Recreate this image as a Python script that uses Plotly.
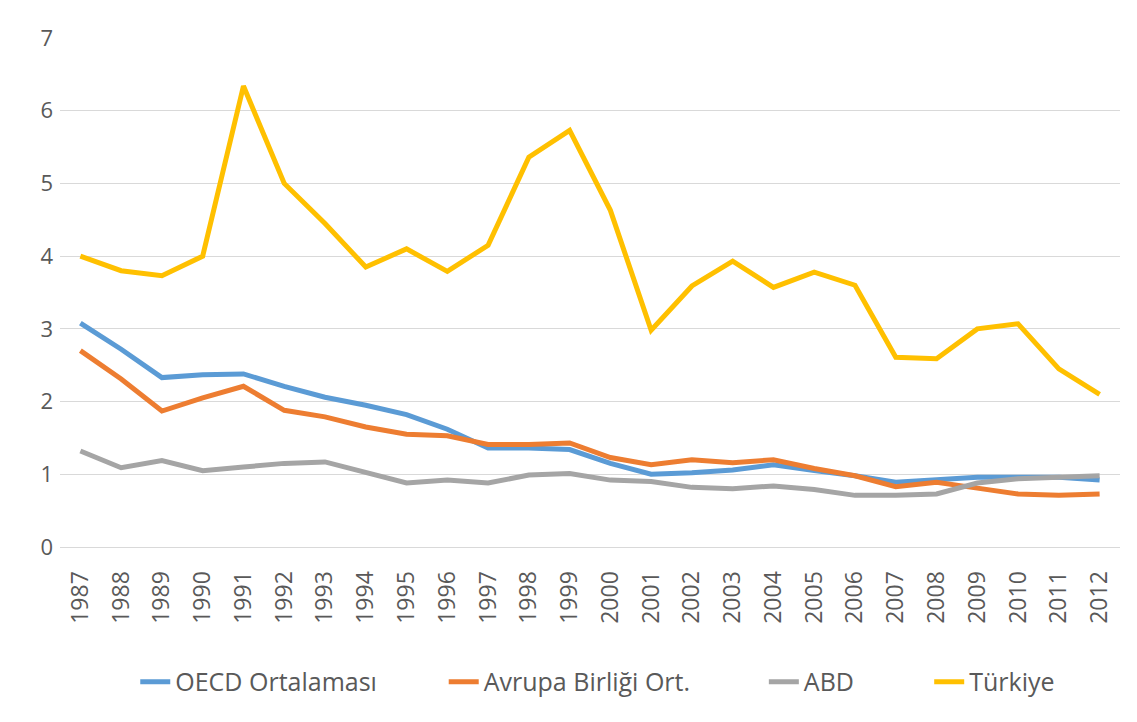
import plotly.graph_objects as go

years = [str(y) for y in range(1987, 2013)]

oecd = [3.08, 2.72, 2.33, 2.37, 2.38, 2.21, 2.06, 1.95, 1.82, 1.62, 1.36, 1.36, 1.34,
        1.15, 1.00, 1.02, 1.06, 1.13, 1.05, 0.98, 0.89, 0.93, 0.96, 0.96, 0.96, 0.92]
ab = [2.70, 2.31, 1.87, 2.05, 2.21, 1.88, 1.79, 1.65, 1.55, 1.53, 1.41, 1.41, 1.43,
      1.23, 1.13, 1.20, 1.16, 1.20, 1.08, 0.98, 0.83, 0.89, 0.81, 0.73, 0.71, 0.73]
abd = [1.32, 1.09, 1.19, 1.05, 1.10, 1.15, 1.17, 1.02, 0.88, 0.92, 0.88, 0.99, 1.01,
       0.92, 0.90, 0.82, 0.80, 0.84, 0.79, 0.71, 0.71, 0.73, 0.88, 0.94, 0.96, 0.98]
turkiye = [4.00, 3.80, 3.73, 4.00, 6.34, 5.00, 4.45, 3.85, 4.10, 3.79, 4.15, 5.36, 5.73,
           4.63, 2.98, 3.59, 3.93, 3.57, 3.78, 3.60, 2.61, 2.59, 3.00, 3.07, 2.45, 2.10]

names = ["OECD Ortalaması", "Avrupa Birliği Ort.", "ABD", "Türkiye"]
colors = ["#5B9BD5", "#ED7D31", "#A5A5A5", "#FFC000"]
series = [oecd, ab, abd, turkiye]

legend_ids = ["legend", "legend2", "legend3", "legend4"]
legend_x = [0.071, 0.362, 0.664, 0.820]

fig = go.Figure()
for name, vals, col, lid in zip(names, series, colors, legend_ids):
    fig.add_trace(go.Scatter(x=years, y=vals, mode="lines", name=name,
                             line=dict(color=col, width=5), legend=lid))

font_fam = "Open Sans, Liberation Sans, sans-serif"
legend_layout = {}
for lid, lx in zip(legend_ids, legend_x):
    legend_layout[lid] = dict(orientation="h", x=lx, xanchor="left", y=-0.265,
                              yanchor="middle", bgcolor="rgba(0,0,0,0)",
                              font=dict(size=25, color="#595959"))

fig.update_layout(
    width=1121, height=706,
    margin=dict(l=52, r=9, t=30, b=163),
    paper_bgcolor="white", plot_bgcolor="white",
    font=dict(family=font_fam, color="#595959"),
    showlegend=True,
    xaxis=dict(type="category", range=[-0.5, 25.5], showgrid=False, zeroline=False,
               showline=True, linecolor="#D9D9D9", linewidth=1,
               tickangle=-90, tickfont=dict(size=23, color="#595959"),
               ticks="", ticklabelstandoff=14, automargin=False),
    yaxis=dict(range=[0, 7], dtick=1, showgrid=True, gridcolor="#D9D9D9", gridwidth=1,
               zeroline=False, showline=False, ticks="", automargin=False,
               tickfont=dict(size=22, color="#595959"), ticklabelstandoff=6),
    **legend_layout,
)

fig.write_html("out.html")
